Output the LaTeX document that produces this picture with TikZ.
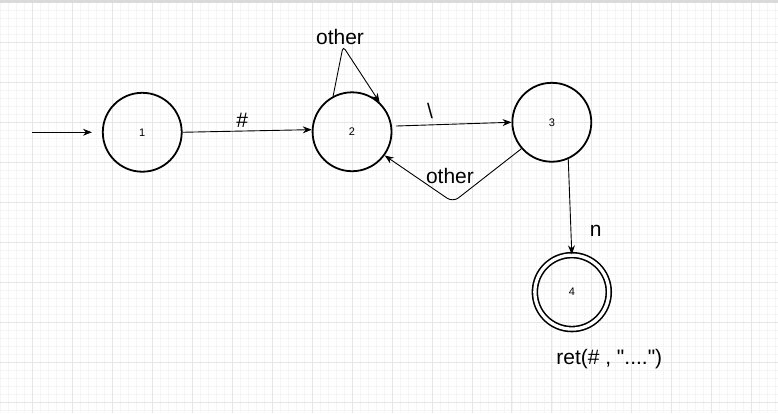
\documentclass[tikz,border=0pt]{standalone}
\usepackage{fontspec}
\setmainfont{Liberation Sans}[Ligatures=TeXOff]
\usetikzlibrary{arrows.meta,positioning}
\definecolor{gridmajor}{HTML}{E6E6E6}
\definecolor{gridminor}{HTML}{F5F5F5}
\definecolor{topbar}{HTML}{DADADA}
\tikzstyle{state}  = [circle, draw, line width=1.8pt, minimum size=79pt, inner sep=0pt, font=\fontsize{11}{13}\selectfont]
\tikzstyle{final}  = [state, double, double distance=3.3pt, line width=1.6pt, minimum size=74pt]
\tikzstyle{trans}  = [line width=0.9pt, -{Stealth[length=9pt,width=7pt,inset=3pt]}]
\tikzstyle{lbl}    = [inner sep=0pt, font=\fontsize{21}{25}\selectfont]

\begin{document}
\begin{tikzpicture}[x=1pt, y=-1pt]
  % background grid
  \fill[white] (0,0) rectangle (778,413);
  \foreach \i in {0,8,...,776} \draw[gridminor, line width=0.6pt] (\i,0) -- (\i,413);
  \foreach \j in {2,10,...,410} \draw[gridminor, line width=0.6pt] (0,\j) -- (778,\j);
  \foreach \i in {32,72,...,752} \draw[gridmajor, line width=0.8pt] (\i,0) -- (\i,413);
  \foreach \j in {2,42,...,402} \draw[gridmajor, line width=0.8pt] (0,\j) -- (778,\j);
  \fill[topbar] (0,0) rectangle (778,3);
  \useasboundingbox (0,0) rectangle (778,413);

  % states
  \node[state] (S_1) at (142,132) {1};
  \node[state] (S_2) at (352,131.5) {2};
  \node[state] (S_3) at (552,122) {3};
  \node[final] (S_4) at (572,292) {4};
  \coordinate (start) at (32,132);
  \coordinate (loop) at (343,46);
  \coordinate (bend) at (453,202);

  % transitions
  \draw[trans, shorten >=10pt] (start) -- (S_1.west);
  \draw[trans] (S_1.east) -- (S_2.177);
  \draw[trans, shorten <=4pt] (S_2.8) -- (S_3.west);
  \draw[trans, rounded corners=4pt] (S_2.118) -- (loop) -- (S_2.47);
  \draw[trans, rounded corners=7pt] (S_3.221) -- (bend) -- (S_2.-36);
  \draw[trans] (S_3.-66) -- (S_4.north);

  % labels
  \node[lbl] (L_hash) at (242,120) {\#};
  \node[lbl] (L_bs) at (430,111) {\textbackslash};
  \node[lbl] (L_loop) at (340,37) {other};
  \node[lbl] (L_back) at (450,175.5) {other};
  \node[lbl] (L_n) at (596,231) {n};
  \node[lbl] (L_ret) at (609.5,359) {ret(\# , "....")};
\end{tikzpicture}
\end{document}
